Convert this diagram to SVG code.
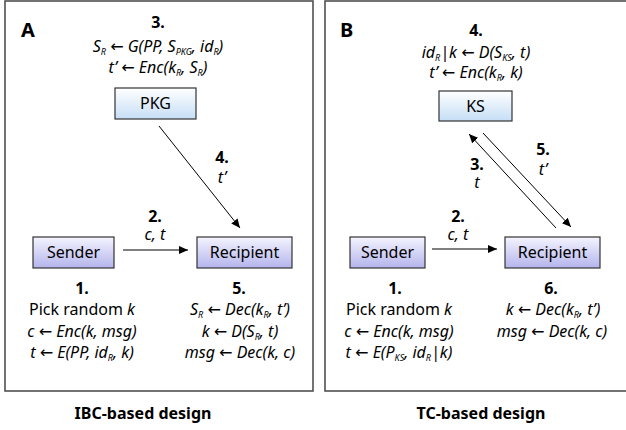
<svg xmlns="http://www.w3.org/2000/svg" width="626" height="430" viewBox="0 0 626 430">
<defs>
<linearGradient id="gPurple" x1="0" y1="0" x2="0" y2="1">
<stop offset="0" stop-color="#f4f4ff"/>
<stop offset="1" stop-color="#b4b4ec"/>
</linearGradient>
<linearGradient id="gBlue" x1="0" y1="0" x2="0" y2="1">
<stop offset="0" stop-color="#ffffff"/>
<stop offset="1" stop-color="#c6def6"/>
</linearGradient>
<marker id="arr" markerUnits="userSpaceOnUse" markerWidth="10" markerHeight="8" refX="9" refY="4" orient="auto">
<path d="M0,0 L9,4 L0,8 Z" fill="#000"/>
</marker>
<style>
text{font-family:"Noto Sans","Open Sans","DejaVu Sans",sans-serif;font-size:16px;fill:#000;text-anchor:middle}
.b{font-weight:bold}
.i{font-style:italic}
.s{font-size:9px}
.cap{font-weight:bold;font-size:16px}
.big{font-weight:bold;font-size:20px;text-anchor:start}
.panel{fill:none;stroke:#505050;stroke-width:1.6}
.box{stroke:#333;stroke-width:1.2}
.con{stroke:#000;stroke-width:1;fill:none;marker-end:url(#arr)}
</style>
</defs>
<rect class="panel" x="5" y="1" width="308" height="390"/>
<rect class="panel" x="325" y="1" width="304" height="390"/>
<text class="big" x="21" y="37">A</text>
<text class="big" x="340" y="37">B</text>

<g id="connectors">
<line class="con" x1="159" y1="126" x2="240" y2="228"/>
<line class="con" x1="123" y1="250" x2="188" y2="250"/>
<line class="con" x1="432" y1="249" x2="497" y2="249"/>
<line class="con" x1="556" y1="228" x2="469" y2="134"/>
<line class="con" x1="483" y1="133" x2="571" y2="227"/>
<text class="b" x="222" y="163">4.</text>
<text class="i" x="222" y="183">t’</text>
<text class="b" x="155" y="222">2.</text>
<text class="i" x="155" y="240">c, t</text>
<text class="b" x="458" y="222">2.</text>
<text class="i" x="458" y="240">c, t</text>
<text class="b" x="477" y="170">3.</text>
<text class="i" x="477" y="188">t</text>
<text class="b" x="543" y="155">5.</text>
<text class="i" x="543" y="175">t’</text>
</g>

<g id="pkg">
<rect class="box" x="115" y="88" width="81" height="31" fill="url(#gBlue)"/>
<text x="155.5" y="109">PKG</text>
<text class="b" x="158" y="28">3.</text>
<text class="i" x="158" y="52">S<tspan class="s" dy="3">R</tspan><tspan dy="-3"> ← G(PP, S</tspan><tspan class="s" dy="3">PKG</tspan><tspan dy="-3">, id</tspan><tspan class="s" dy="3">R</tspan><tspan dy="-3">)</tspan></text>
<text class="i" x="158" y="73">t’ ← Enc(k<tspan class="s" dy="3">R</tspan><tspan dy="-3">, S</tspan><tspan class="s" dy="3">R</tspan><tspan dy="-3">)</tspan></text>
</g>

<g id="senderA">
<rect class="box" x="33" y="237" width="81" height="31" fill="url(#gPurple)"/>
<text x="73.5" y="258">Sender</text>
<text class="b" x="82" y="294">1.</text>
<text x="82" y="315">Pick random <tspan class="i">k</tspan></text>
<text class="i" x="82" y="337">c ← Enc(k, msg)</text>
<text class="i" x="82" y="358">t ← E(PP, id<tspan class="s" dy="3">R</tspan><tspan dy="-3">, k)</tspan></text>
</g>

<g id="recipientA">
<rect class="box" x="197" y="237" width="95" height="31" fill="url(#gPurple)"/>
<text x="244.5" y="258">Recipient</text>
<text class="b" x="239" y="294">5.</text>
<text class="i" x="240" y="315">S<tspan class="s" dy="3">R</tspan><tspan dy="-3"> ← Dec(k</tspan><tspan class="s" dy="3">R</tspan><tspan dy="-3">, t’)</tspan></text>
<text class="i" x="240" y="337">k ← D(S<tspan class="s" dy="3">R</tspan><tspan dy="-3">, t)</tspan></text>
<text class="i" x="240" y="358">msg ← Dec(k, c)</text>
</g>

<g id="ks">
<rect class="box" x="439" y="91" width="73" height="30" fill="url(#gBlue)"/>
<text x="475.5" y="112">KS</text>
<text class="b" x="476" y="36">4.</text>
<text class="i" x="476" y="58">id<tspan class="s" dy="3">R</tspan><tspan dy="-3">|k ← D(S</tspan><tspan class="s" dy="3">KS</tspan><tspan dy="-3">, t)</tspan></text>
<text class="i" x="476" y="78">t’ ← Enc(k<tspan class="s" dy="3">R</tspan><tspan dy="-3">, k)</tspan></text>
</g>

<g id="senderB">
<rect class="box" x="350" y="237" width="75" height="31" fill="url(#gPurple)"/>
<text x="387.5" y="258">Sender</text>
<text class="b" x="395" y="294">1.</text>
<text x="399" y="315">Pick random <tspan class="i">k</tspan></text>
<text class="i" x="399" y="337">c ← Enc(k, msg)</text>
<text class="i" x="399" y="358">t ← E(P<tspan class="s" dy="3">KS</tspan><tspan dy="-3">, id</tspan><tspan class="s" dy="3">R</tspan><tspan dy="-3">|k)</tspan></text>
</g>

<g id="recipientB">
<rect class="box" x="505" y="237" width="95" height="31" fill="url(#gPurple)"/>
<text x="552.5" y="258">Recipient</text>
<text class="b" x="551" y="294">6.</text>
<text class="i" x="553" y="315">k ← Dec(k<tspan class="s" dy="3">R</tspan><tspan dy="-3">, t’)</tspan></text>
<text class="i" x="552" y="337">msg ← Dec(k, c)</text>
</g>

<text class="cap" x="143" y="419">IBC-based design</text>
<text class="cap" x="481" y="419">TC-based design</text>
</svg>
